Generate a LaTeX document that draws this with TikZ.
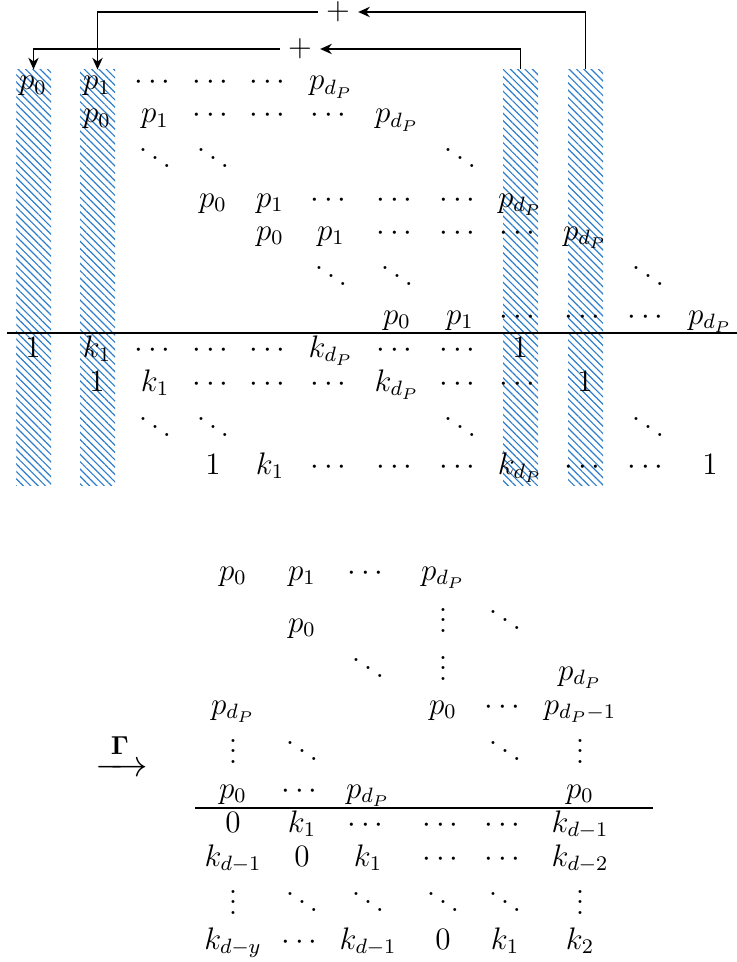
\documentclass[tikz,border=0pt]{standalone}
\usepackage{amsmath}
\usetikzlibrary{arrows.meta,patterns.meta,fit}

\definecolor{hatchblue}{RGB}{45,125,205}

\tikzset{
  entry/.style={anchor=base, inner sep=0pt},
  plus/.style={inner xsep=3pt, inner ysep=0pt},
  hatchcol/.style={inner sep=0pt, pattern color=hatchblue,
    pattern={Lines[angle=-45, distance=2pt, line width=0.45pt]}},
  link/.style={line width=0.5pt, -{Stealth[length=4.5pt, width=4pt]}},
  rule/.style={line width=0.5pt}
}

% column centres of the two blocks
\def\tcol{{33,97,155,213,270,331,397,460,520,585,648,710}}
\def\bcol{{233,302,368,443,505,580}}

% one row of entries: name, columns, baseline, list col/entry
\newcommand{\mrow}[4]{%
  \foreach \c/\e in {#4} {
    \pgfmathsetmacro{\xx}{#2[\c-1]}
    \node[entry] (#1-\c) at (\xx,#3) {$\e$};
  }}

\begin{document}
\begin{tikzpicture}[x=0.385pt, y=-0.385pt, font=\large]
\useasboundingbox (0,0) rectangle (737,962);

% Columnas rayadas
\node[hatchcol, fit={(16,70) (51,485)}] (H1) {};
\node[hatchcol, fit={(80,70) (115,485)}] (H2) {};
\node[hatchcol, fit={(503,70) (538,485)}] (H9) {};
\node[hatchcol, fit={(568,70) (603,485)}] (H10) {};

% Sumas
\node[plus] (plusA) at (338,12) {$+$};
\node[plus] (plusB) at (300,49) {$+$};
\draw[link] (H10.north) |- (plusA);
\draw[link] (plusA) -| (H2.north);
\draw[link] (H9.north) |- (plusB);
\draw[link] (plusB) -| (H1.north);

% Bloque superior
\mrow{t1}{\tcol}{90}{1/p_0,2/p_1,3/\cdots,4/\cdots,5/\cdots,6/p_{d_P}}
\mrow{t2}{\tcol}{123}{2/p_0,3/p_1,4/\cdots,5/\cdots,6/\cdots,7/p_{d_P}}
\mrow{t3}{\tcol}{170}{3/\ddots,4/\ddots,8/\ddots}
\mrow{t4}{\tcol}{207}{4/p_0,5/p_1,6/\cdots,7/\cdots,8/\cdots,9/p_{d_P}}
\mrow{t5}{\tcol}{240}{5/p_0,6/p_1,7/\cdots,8/\cdots,9/\cdots,10/p_{d_P}}
\mrow{t6}{\tcol}{288}{6/\ddots,7/\ddots,11/\ddots}
\mrow{t7}{\tcol}{324}{7/p_0,8/p_1,9/\cdots,10/\cdots,11/\cdots,12/p_{d_P}}

\draw[rule] (7,333) -- (737,333);

\mrow{t8}{\tcol}{357}{1/1,2/k_1,3/\cdots,4/\cdots,5/\cdots,6/k_{d_P},7/\cdots,8/\cdots,9/1}
\mrow{t9}{\tcol}{391}{2/1,3/k_1,4/\cdots,5/\cdots,6/\cdots,7/k_{d_P},8/\cdots,9/\cdots,10/1}
\mrow{t10}{\tcol}{439}{3/\ddots,4/\ddots,8/\ddots,11/\ddots}
\mrow{t11}{\tcol}{474}{4/1,5/k_1,6/\cdots,7/\cdots,8/\cdots,9/k_{d_P},10/\cdots,11/\cdots,12/1}

% Flecha
\node[entry, font=\Large] (gam) at (122,776) {$\xrightarrow{\;\mathbf{\Gamma}\;}$};

% Bloque inferior
\mrow{b1}{\bcol}{580}{1/p_0,2/p_1,3/\cdots,4/p_{d_P}}
\mrow{b2}{\bcol}{632}{2/p_0,4/\vdots,5/\ddots}
\mrow{b3}{\bcol}{680}{3/\ddots,4/\vdots,6/p_{d_P}}
\mrow{b4}{\bcol}{714}{1/p_{d_P},4/p_0,5/\cdots,6/p_{d_P-1}}
\mrow{b5}{\bcol}{763}{1/\vdots,2/\ddots,5/\ddots,6/\vdots}
\mrow{b6}{\bcol}{798}{1/p_0,2/\cdots,3/p_{d_P},6/p_0}

\draw[rule] (195,808) -- (653,808);

\mrow{b7}{\bcol}{832}{1/0,2/k_1,3/\cdots,4/\cdots,5/\cdots,6/k_{d-1}}
\mrow{b8}{\bcol}{866}{1/k_{d-1},2/0,3/k_1,4/\cdots,5/\cdots,6/k_{d-2}}
\mrow{b9}{\bcol}{914}{1/\vdots,2/\ddots,3/\ddots,4/\ddots,5/\ddots,6/\vdots}
\mrow{b10}{\bcol}{949}{1/k_{d-y},2/\cdots,3/k_{d-1},4/0,5/k_1,6/k_2}
\end{tikzpicture}
\end{document}
